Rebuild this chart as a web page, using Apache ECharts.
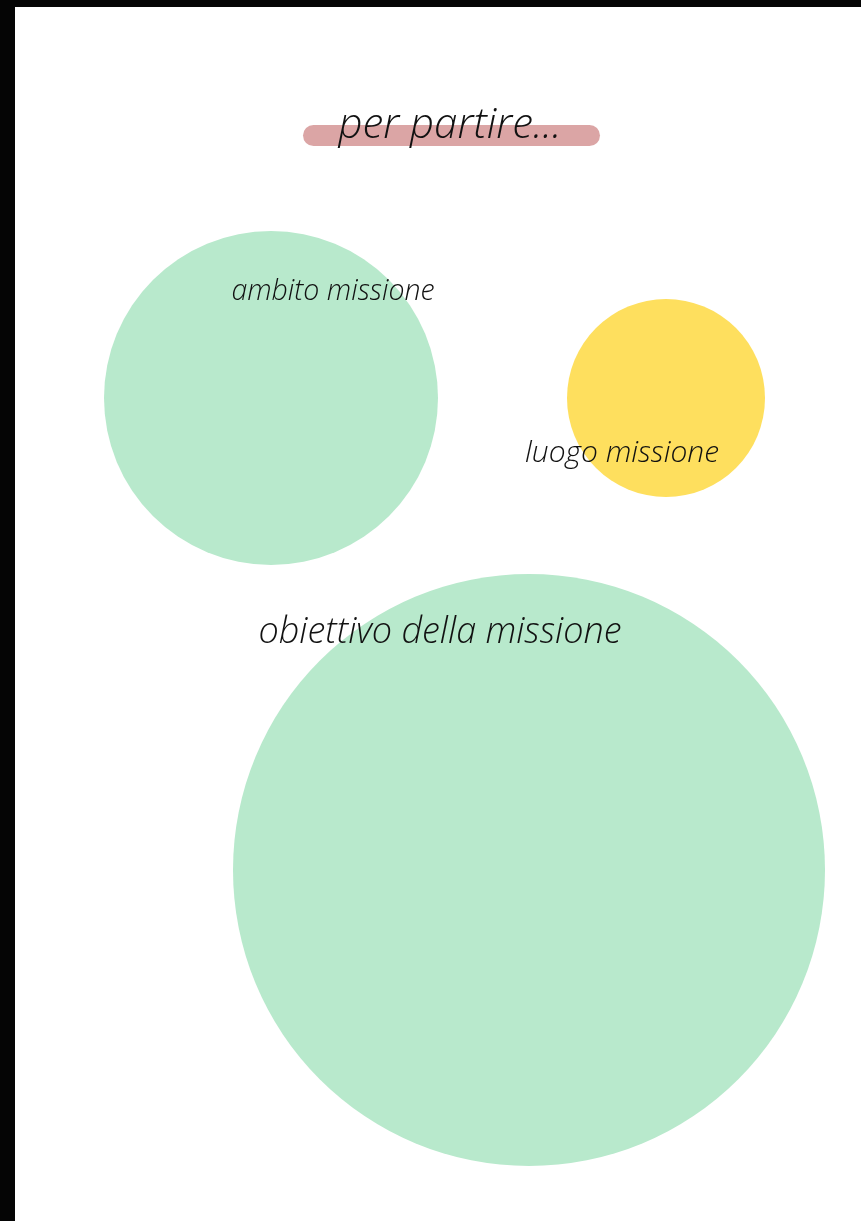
<!DOCTYPE html>
<html>
<head>
<meta charset="utf-8">
<script src="https://cdn.jsdelivr.net/npm/echarts@6/dist/echarts.min.js"></script>
<style>
html,body{margin:0;padding:0;background:#fff;}
#main{width:861px;height:1221px;}
</style>
</head>
<body>
<div id="main"></div>
<script>
// Data (abstract page units: x across, y down)
var names = ['ambito missione', 'luogo missione', 'obiettivo della missione'];
var xValues = [271, 666, 529];
var yValues = [398, 398, 870];
var diameters = [334, 198, 592];
var colors = ['#b8e9cc', '#fedf5e', '#b8e9cc'];
var titleText = 'per partire...';

var FONT = "'Open Sans', Lato, 'DejaVu Sans', sans-serif";
var labelStyles = [
  {offset: [62, -106], fontSize: 28.5},
  {offset: [-44, 55], fontSize: 30},
  {offset: [-89, -237], fontSize: 36}
];

var data = names.map(function (n, i) {
  return {
    name: n,
    value: [xValues[i], yValues[i], diameters[i]],
    itemStyle: {color: colors[i], opacity: 1},
    label: {
      show: true,
      position: 'inside',
      formatter: '{b}',
      offset: labelStyles[i].offset,
      fontSize: labelStyles[i].fontSize,
      fontFamily: FONT,
      fontStyle: 'italic',
      fontWeight: 300,
      color: '#111'
    }
  };
});

var chart = echarts.init(document.getElementById('main'), null, {renderer: 'canvas'});
chart.setOption({
  backgroundColor: '#ffffff',
  animation: false,
  title: {
    text: titleText,
    left: 445,
    top: 100,
    textAlign: 'center',
    textStyle: {fontFamily: FONT, fontSize: 42, fontStyle: 'italic', fontWeight: 300, color: '#111'}
  },
  graphic: [
    {type: 'rect', z: -1, shape: {x: 0, y: 0, width: 861, height: 7}, style: {fill: '#050505'}},
    {type: 'rect', z: -1, shape: {x: 0, y: 0, width: 15, height: 1221}, style: {fill: '#050505'}},
    {type: 'rect', z: -1, shape: {x: 303, y: 125, width: 297, height: 21, r: 10.5}, style: {fill: '#dba5a5'}}
  ],
  grid: {left: 0, right: 0, top: 0, bottom: 0},
  xAxis: {type: 'value', min: 0, max: 861, show: false},
  yAxis: {type: 'value', min: 0, max: 1221, inverse: true, show: false},
  series: [{
    type: 'scatter',
    data: data,
    symbol: 'circle',
    symbolSize: function (v) { return v[2]; },
    z: 2
  }]
});
</script>
</body>
</html>
